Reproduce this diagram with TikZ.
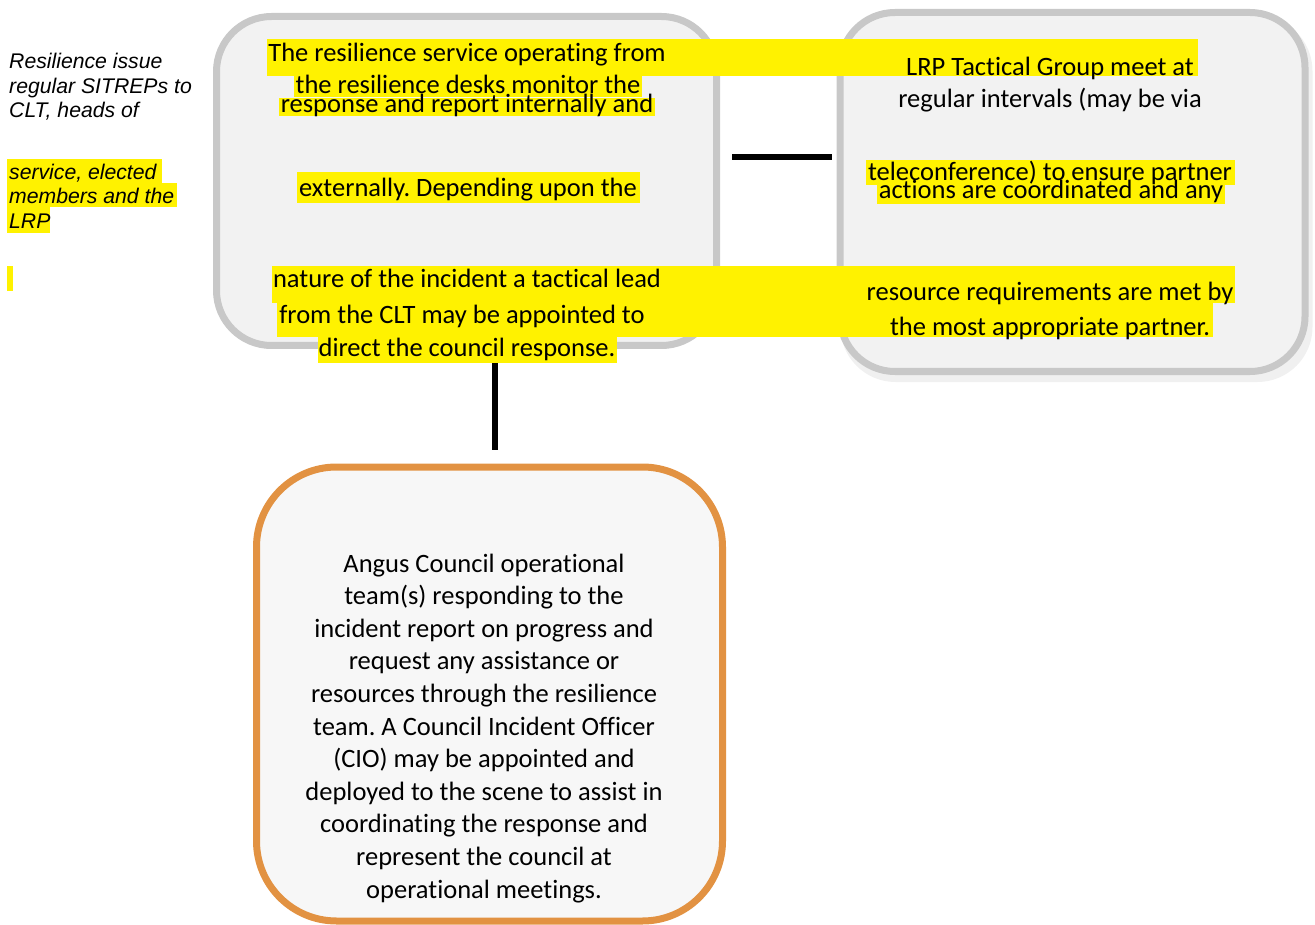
\documentclass[tikz,border=0pt]{standalone}
\usepackage{fontspec}
\setmainfont{Carlito}[Ligatures=NoCommon]
\newfontfamily\arialfont{Liberation Sans}
\usetikzlibrary{positioning,calc}
\definecolor{panelgray}{RGB}{200,200,200}
\definecolor{panelfill}{RGB}{242,242,242}
\definecolor{opsorange}{RGB}{226,146,66}
\definecolor{shadowgray}{RGB}{240,240,240}
\frenchspacing

\begin{document}
\begin{tikzpicture}[
  x=1pt, y=-1pt,
  panel/.style={rectangle, draw=panelgray, line width=7pt, fill=panelfill, rounded corners=55pt, inner sep=0pt},
  opspanel/.style={panel, draw=opsorange, fill=panelfill!60!white, rounded corners=80pt},
  hl/.style={fill=yellow},
  txt/.style={anchor=base, inner sep=0pt, font=\fontsize{26.5}{30}\selectfont},
  side/.style={anchor=base west, inner sep=0pt, font=\arialfont\itshape\fontsize{21.2}{24}\selectfont},
  link/.style={line width=6pt}
]
  \useasboundingbox (0,0) rectangle (1315,925);

  % The three panels
  \node[panel, draw=none, fill=shadowgray, minimum width=472pt, minimum height=366pt] (shadow) at (1076.5,199) {};
  \node[panel, minimum width=500pt, minimum height=329pt] (resil) at (466.5,181) {};
  \node[panel, minimum width=465pt, minimum height=359pt] (lrp) at (1072.5,192) {};
  \node[opspanel, minimum width=466pt, minimum height=454pt] (ops) at (489.5,694) {};

  % Connectors
  \coordinate (hA) at (732,157);
  \coordinate (hB) at (832,157);
  \coordinate (vA) at (495,363);
  \coordinate (vB) at (495,450);
  \draw[link] (hA) -- (hB);
  \draw[link] (vA) -- (vB);

  % Highlighting
  \fill[hl] (267,39) rectangle (1198,76);
  \fill[hl] (294,76) rectangle (642,97);
  \fill[hl] (279,98) rectangle (655,116);
  \fill[hl] (297,172) rectangle (640,203);
  \fill[hl] (866,160) rectangle (1235,185);
  \fill[hl] (877,185) rectangle (1225,204);
  \fill[hl] (272,266) rectangle (1235,303);
  \fill[hl] (277,303) rectangle (1213,337);
  \fill[hl] (318,337) rectangle (617,363);
  \fill[hl] (7,159) rectangle (162,183);
  \fill[hl] (7,183) rectangle (177,207);
  \fill[hl] (7,207) rectangle (50,233);
  \fill[hl] (7,266) rectangle (13,291);

  % Side note
  \node[side] (note1) at (9,69) {Resilience issue};
  \node[side] (note2) at (9,94) {regular SITREPs to};
  \node[side] (note3) at (9,118) {CLT, heads of};
  \node[side] (note4) at (9,180) {service, elected};
  \node[side] (note5) at (9,204) {members and the};
  \node[side] (note6) at (9,229) {LRP};

  % Resilience service text
  \node[txt] (r1) at (467,62) {The resilience service operating from};
  \node[txt] (r2) at (468,94) {the resilience desks monitor the};
  \node[txt] (r3) at (467,113) {response and report internally and};
  \node[txt] (r4) at (468,197) {externally. Depending upon the};
  \node[txt] (r5) at (467,288) {nature of the incident a tactical lead};
  \node[txt] (r6) at (462,324) {from the CLT may be appointed to};
  \node[txt] (r7) at (467,357) {direct the council response.};

  % LRP text
  \node[txt] (l1) at (1050,76) {LRP Tactical Group meet at};
  \node[txt] (l2) at (1050,108) {regular intervals (may be via};
  \node[txt] (l3) at (1050,181) {teleconference) to ensure partner};
  \node[txt] (l4) at (1051,199) {actions are coordinated and any};
  \node[txt] (l5) at (1050,301) {resource requirements are met by};
  \node[txt] (l6) at (1050,336) {the most appropriate partner.};

  % Operational team text
  \foreach \t [count=\i from 0] in {Angus Council operational, team(s) responding to the,
      incident report on progress and, request any assistance or,
      resources through the resilience, team. A Council Incident Officer,
      (CIO) may be appointed and, deployed to the scene to assist in,
      coordinating the response and, represent the council at, operational meetings.}
    \node[txt] (op\i) at (484,572+32.6*\i) {\t};
\end{tikzpicture}
\end{document}
